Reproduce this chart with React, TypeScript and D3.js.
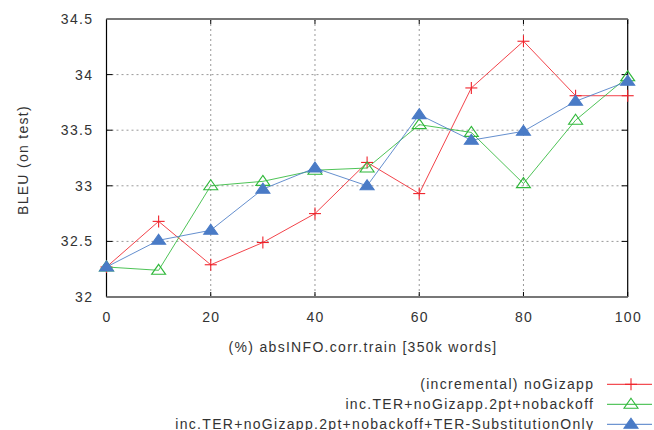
import React from "react";
import * as d3 from "d3";

const xValues = [0, 10, 20, 30, 40, 50, 60, 70, 80, 90, 100];
const seriesNames = [
  "(incremental) noGizapp",
  "inc.TER+noGizapp.2pt+nobackoff",
  "inc.TER+noGizapp.2pt+nobackoff+TER-SubstitutionOnly",
];
const redValues = [32.27, 32.68, 32.29, 32.49, 32.75, 33.21, 32.93, 33.88, 34.3, 33.81, 33.81];
const greenValues = [32.27, 32.24, 33.0, 33.04, 33.14, 33.16, 33.55, 33.48, 33.02, 33.59, 33.98];
const blueValues = [32.27, 32.51, 32.6, 32.97, 33.16, 33.0, 33.64, 33.41, 33.49, 33.76, 33.94];
const xTicks = [0, 20, 40, 60, 80, 100];
const yTicks = [32, 32.5, 33, 33.5, 34, 34.5];
const xLabel = "(%) absINFO.corr.train [350k words]";
const yLabel = "BLEU (on test)";

const colors = ["#f0222a", "#2fb83a", "#4a7bc6"];
const FONT = "'Liberation Sans', Arial, sans-serif";
const FS = 14;
const LS = 1.3;

export default function App() {
  const W = 654, H = 430;
  const left = 106.5, right = 627.7, top = 19, bottom = 297;
  const x = d3.scaleLinear().domain([0, 100]).range([left, right]);
  const y = d3.scaleLinear().domain([32, 34.5]).range([bottom, top]);
  const line = d3
    .line<number>()
    .x((_, i) => x(xValues[i]))
    .y((d) => y(d));
  const all = [redValues, greenValues, blueValues];

  const plus = (cx: number, cy: number, c: string, k: string) => (
    <g key={k} stroke={c} strokeWidth={1.1}>
      <line x1={cx - 6} x2={cx + 6} y1={cy} y2={cy} />
      <line x1={cx} x2={cx} y1={cy - 6} y2={cy + 6} />
    </g>
  );
  const tri = (cx: number, cy: number, c: string, filled: boolean, k: string) => (
    <path
      key={k}
      d={`M${cx},${cy - 6} L${cx + 7},${cy + 4} L${cx - 7},${cy + 4} Z`}
      fill={filled ? c : "white"}
      fillOpacity={filled ? 1 : 0}
      stroke={c}
      strokeWidth={1.1}
    />
  );
  const marker = (si: number, cx: number, cy: number, k: string) =>
    si === 0 ? plus(cx, cy, colors[0], k) : tri(cx, cy, colors[si], si === 2, k);

  const textProps = { fontFamily: FONT, fontSize: FS, fill: "#333", letterSpacing: LS };

  return (
    <svg width={W} height={H} style={{ position: "absolute", left: 0, top: 0 }}>
      <rect width={W} height={H} fill="white" />
      {xTicks.slice(1, -1).map((t) => (
        <line key={"gx" + t} x1={x(t)} x2={x(t)} y1={top} y2={bottom} stroke="#999" strokeWidth={1} strokeDasharray="2,3" />
      ))}
      {yTicks.slice(1, -1).map((t) => (
        <line key={"gy" + t} x1={left} x2={right} y1={y(t)} y2={y(t)} stroke="#999" strokeWidth={1} strokeDasharray="2,3" />
      ))}
      {xTicks.map((t) => (
        <g key={"tx" + t} stroke="#000" strokeWidth={1}>
          <line x1={x(t)} x2={x(t)} y1={bottom} y2={bottom - 5} />
          <line x1={x(t)} x2={x(t)} y1={top} y2={top + 5} />
        </g>
      ))}
      {yTicks.map((t) => (
        <g key={"ty" + t} stroke="#000" strokeWidth={1}>
          <line x1={left} x2={left + 6} y1={y(t)} y2={y(t)} />
          <line x1={right} x2={right - 6} y1={y(t)} y2={y(t)} />
        </g>
      ))}
      <line x1={left} x2={left} y1={top} y2={bottom} stroke="#000" strokeWidth={1.2} />
      <line x1={right} x2={right} y1={top} y2={bottom} stroke="#000" strokeWidth={1.2} />
      <line x1={left} x2={right} y1={top} y2={top} stroke="#777" strokeWidth={2} />
      <line x1={left} x2={right} y1={bottom} y2={bottom} stroke="#777" strokeWidth={2} />
      {yTicks.map((t) => (
        <text key={"ly" + t} x={92 + LS} y={y(t)} dy="0.36em" textAnchor="end" {...textProps}>
          {String(t)}
        </text>
      ))}
      {xTicks.map((t) => (
        <text key={"lx" + t} x={x(t) + LS / 2} y={322} textAnchor="middle" {...textProps}>
          {String(t)}
        </text>
      ))}
      <text x={363} y={352} textAnchor="middle" {...textProps}>
        {xLabel}
      </text>
      <text transform={`translate(28,160) rotate(-90)`} textAnchor="middle" {...textProps}>
        {yLabel}
      </text>
      {all.map((vals, si) => (
        <g key={"s" + si}>
          <path d={line(vals) || ""} fill="none" stroke={colors[si]} strokeWidth={1} opacity={0.85} />
          {vals.map((v, i) => marker(si, x(xValues[i]), y(v), `m${si}-${i}`))}
        </g>
      ))}
      {seriesNames.map((name, si) => {
        const ly = 384.3 + si * 20;
        return (
          <g key={"lg" + si}>
            <text x={593 + LS} y={ly} dy="0.36em" textAnchor="end" {...textProps}>
              {name}
            </text>
            <line x1={607} x2={652} y1={ly} y2={ly} stroke={colors[si]} strokeWidth={1} />
            {marker(si, 631, ly, "lm" + si)}
          </g>
        );
      })}
    </svg>
  );
}
